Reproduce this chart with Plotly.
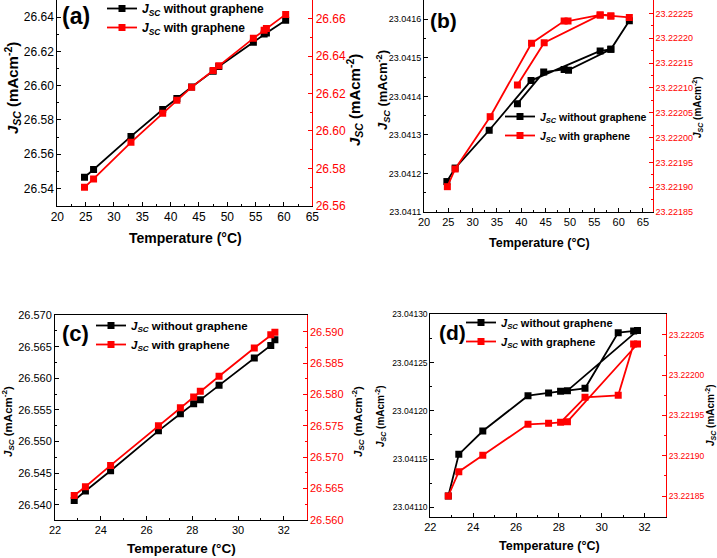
import plotly.graph_objects as go

W, H = 717, 558
FONT = "Liberation Sans, Arial, sans-serif"

# ---------------- data ----------------
# (a)
a_temp = [24.8, 26.4, 33.0, 38.6, 41.1, 43.7, 47.5, 48.5, 54.6, 56.5, 56.9, 60.3]
a_without = [26.5466, 26.5511, 26.5704, 26.5861, 26.5925, 26.5993, 26.6085, 26.6112,
             26.6254, 26.6301, 26.6307, 26.6382]
a_with = [26.5698, 26.5743, 26.5939, 26.6095, 26.6164, 26.6234, 26.6323, 26.6348,
          26.6495, 26.6538, 26.6548, 26.6623]

# (b)  (measurement order as traced in the picture)
b_temp_without = [24.7, 26.4, 33.4, 42.0, 56.2, 58.4, 62.2, 58.4, 49.7, 48.8, 44.6, 39.2]
b_without = [23.041179, 23.041214, 23.041312, 23.041441, 23.041518, 23.041522, 23.041596,
             23.041522, 23.041468, 23.041470, 23.041463, 23.041381]
b_temp_with = [24.8, 26.4, 33.6, 42.1, 48.8, 49.6, 56.2, 58.4, 62.2, 58.4, 56.2, 44.7, 39.2]
b_with = [23.221901, 23.2219366, 23.222042, 23.222190, 23.2222346, 23.2222346, 23.222247,
          23.222245, 23.222242, 23.222245, 23.222247, 23.222191, 23.222106]

# (c)
c_temp = [22.84, 23.33, 24.43, 26.52, 27.48, 28.06, 28.35, 29.17, 30.71, 31.43, 31.61]
c_without = [26.5407, 26.5422, 26.5454, 26.5517, 26.5544, 26.5560, 26.5566, 26.5589,
             26.5632, 26.5652, 26.5661]
c_with = [26.5639, 26.5653, 26.5687, 26.5750, 26.5779, 26.5796, 26.5805, 26.5829,
          26.5874, 26.5895, 26.5899]

# (d)
d_temp = [22.84, 23.33, 24.45, 26.56, 27.52, 28.08, 29.22, 30.77, 31.49, 31.67, 28.40]
d_without = [23.0411117, 23.0411549, 23.0411791, 23.0412157, 23.0412185, 23.0412202,
             23.0412233, 23.0412810, 23.0412827, 23.0412831, 23.0412209]
d_with = [23.2218500, 23.2218802, 23.2219005, 23.2219390, 23.2219403, 23.2219415,
          23.2219726, 23.2219751, 23.2220388, 23.2220388, 23.2219423]

name_without = "<b><i>J</i><sub><i>SC</i></sub> without graphene</b>"
name_with = "<b><i>J</i><sub><i>SC</i></sub> with graphene</b>"
ytitle = "<b><i>J</i><sub><i>SC</i></sub> (mAcm<sup>-2</sup>)</b>"
xtitle = "<b>Temperature (°C)</b>"


def fx(p):
    return p / W


def fy(p):
    return 1 - p / H


panels = [
    dict(label="(a)", x=(57.3, 312.3), y=(0, 205.7),
         xr=[20, 65], xd=5, xm=2.5, xfs=12,
         lr=[26.530, 26.650], ld=0.02, lm=0.01, lf=".2f", lfs=12,
         rr=[26.56, 26.670], rd=0.02, rm=0.01, rf=".2f", rfs=12,
         tx=a_temp, ty1=a_without, tx2=a_temp, ty2=a_with,
         leg=(102, -6), legfs=12,
         lab=(60, 16, 23),
         xt=(185, 238, 14), ylt=(13, 88, 15), yrt=(354, 100, 15)),
    dict(label="(b)", x=(424, 652.7), y=(0, 212),
         xr=[20, 67], xd=5, xm=2.5, xfs=11,
         lr=[23.0411, 23.04165], ld=0.0001, lm=0.00005, lf=".4f", lfs=9,
         rr=[23.22185, 23.222277], rd=0.00005, rm=0.000025, rf=".5f", rfs=9,
         tx=b_temp_without, ty1=b_without, tx2=b_temp_with, ty2=b_with,
         leg=(500, 102), legfs=10.5,
         lab=(428, 20, 21),
         xt=(539, 243, 12.5), ylt=(383, 90, 13), yrt=(698, 107, 10)),
    dict(label="(c)", x=(55, 306.7), y=(315, 520),
         xr=[22, 33], xd=2, xm=1, xfs=11,
         lr=[26.53762, 26.570], ld=0.005, lm=0.0025, lf=".3f", lfs=11,
         rr=[26.560, 26.59266], rd=0.005, rm=0.0025, rf=".3f", rfs=11,
         tx=c_temp, ty1=c_without, tx2=c_temp, ty2=c_with,
         leg=(91, 311), legfs=11.5,
         lab=(60, 333, 22),
         xt=(181, 548, 13.5), ylt=(8, 422, 11.5), yrt=(358, 422, 11.5)),
    dict(label="(d)", x=(430.3, 666), y=(314.3, 516.7),
         xr=[22, 33], xd=2, xm=1, xfs=11,
         lr=[23.0410903, 23.04130], ld=0.00005, lm=0.000025, lf=".5f", lfs=8.5,
         rr=[23.2218243, 23.2220757], rd=0.00005, rm=0.000025, rf=".5f", rfs=8.5,
         tx=d_temp, ty1=d_without, tx2=d_temp, ty2=d_with,
         leg=(461, 308), legfs=11,
         lab=(437, 332, 21),
         xt=(549, 546, 12.5), ylt=(380, 416, 10), yrt=(710, 415, 10)),
]

fig = go.Figure()
layout = dict(
    width=W, height=H, margin=dict(l=0, r=0, t=0, b=0, autoexpand=False),
    paper_bgcolor="white", plot_bgcolor="white",
    font=dict(family=FONT, color="black"),
    showlegend=True,
)
annotations = []

for i, p in enumerate(panels):
    n = i + 1
    xa = "x" if n == 1 else f"x{n}"
    yl_idx = 2 * n - 1
    yr_idx = 2 * n
    yl = "y" if yl_idx == 1 else f"y{yl_idx}"
    yr = f"y{yr_idx}"
    leg = "legend" if n == 1 else f"legend{n}"

    xkey = "xaxis" if n == 1 else f"xaxis{n}"
    ylkey = "yaxis" if yl_idx == 1 else f"yaxis{yl_idx}"
    yrkey = f"yaxis{yr_idx}"

    xdom = [fx(p["x"][0]), fx(p["x"][1])]
    ydom = [fy(p["y"][1]), min(1.0, fy(p["y"][0]))]

    layout[xkey] = dict(
        domain=xdom, anchor=yl, range=p["xr"], dtick=p["xd"], tick0=0,
        automargin=False,
        showline=True, linecolor="black", linewidth=1, mirror=True,
        ticks="inside", ticklen=4, tickcolor="black",
        minor=dict(dtick=p["xm"], ticks="inside", ticklen=2, tickcolor="black"),
        showgrid=False, zeroline=False,
        tickfont=dict(size=p["xfs"], color="black"),
    )
    layout[ylkey] = dict(
        domain=ydom, anchor=xa, range=p["lr"], dtick=p["ld"], tick0=0,
        tickformat=p["lf"], automargin=False,
        showline=True, linecolor="black", linewidth=1,
        ticks="inside", ticklen=4, tickcolor="black",
        minor=dict(dtick=p["lm"], ticks="inside", ticklen=2, tickcolor="black"),
        showgrid=False, zeroline=False,
        tickfont=dict(size=p["lfs"], color="black"),
    )
    layout[yrkey] = dict(
        overlaying=yl, anchor=xa, side="right", range=p["rr"], dtick=p["rd"], tick0=0,
        tickformat=p["rf"], automargin=False,
        showline=True, linecolor="red", linewidth=1,
        ticks="inside", ticklen=4, tickcolor="red",
        minor=dict(dtick=p["rm"], ticks="inside", ticklen=2, tickcolor="red"),
        showgrid=False, zeroline=False,
        tickfont=dict(size=p["rfs"], color="red"),
    )
    layout[leg] = dict(
        x=fx(p["leg"][0]), y=fy(p["leg"][1]), xanchor="left", yanchor="top",
        bgcolor="rgba(0,0,0,0)", borderwidth=0,
        font=dict(family=FONT, size=p["legfs"], color="black"),
        itemwidth=30, tracegroupgap=0,
    )

    fig.add_trace(go.Scatter(
        x=p["tx"], y=p["ty1"], xaxis=xa, yaxis=yl, mode="lines+markers",
        name=name_without, legend=leg,
        line=dict(color="black", width=1.8),
        marker=dict(symbol="square", size=7, color="black"),
    ))
    fig.add_trace(go.Scatter(
        x=p["tx2"], y=p["ty2"], xaxis=xa, yaxis=yr, mode="lines+markers",
        name=name_with, legend=leg,
        line=dict(color="red", width=1.8),
        marker=dict(symbol="square", size=7, color="red"),
    ))

    annotations.append(dict(
        text=f"<b>{p['label']}</b>", xref="paper", yref="paper",
        x=fx(p["lab"][0]), y=fy(p["lab"][1]), xanchor="left", yanchor="middle",
        showarrow=False, font=dict(size=p["lab"][2], family=FONT, color="black"),
    ))
    annotations.append(dict(
        text=xtitle, xref="paper", yref="paper",
        x=fx(p["xt"][0]), y=fy(p["xt"][1]), xanchor="center", yanchor="middle",
        showarrow=False, font=dict(size=p["xt"][2], family=FONT, color="black"),
    ))
    annotations.append(dict(
        text=ytitle, xref="paper", yref="paper", textangle=-90,
        x=fx(p["ylt"][0]), y=fy(p["ylt"][1]), xanchor="center", yanchor="middle",
        showarrow=False, font=dict(size=p["ylt"][2], family=FONT, color="black"),
    ))
    annotations.append(dict(
        text=ytitle, xref="paper", yref="paper", textangle=-90,
        x=fx(p["yrt"][0]), y=fy(p["yrt"][1]), xanchor="center", yanchor="middle",
        showarrow=False, font=dict(size=p["yrt"][2], family=FONT, color="black"),
    ))

layout["annotations"] = annotations
fig.update_layout(**layout)
fig.write_html("out.html", config={"displayModeBar": False},
               post_script="document.body.style.margin='0px';")
